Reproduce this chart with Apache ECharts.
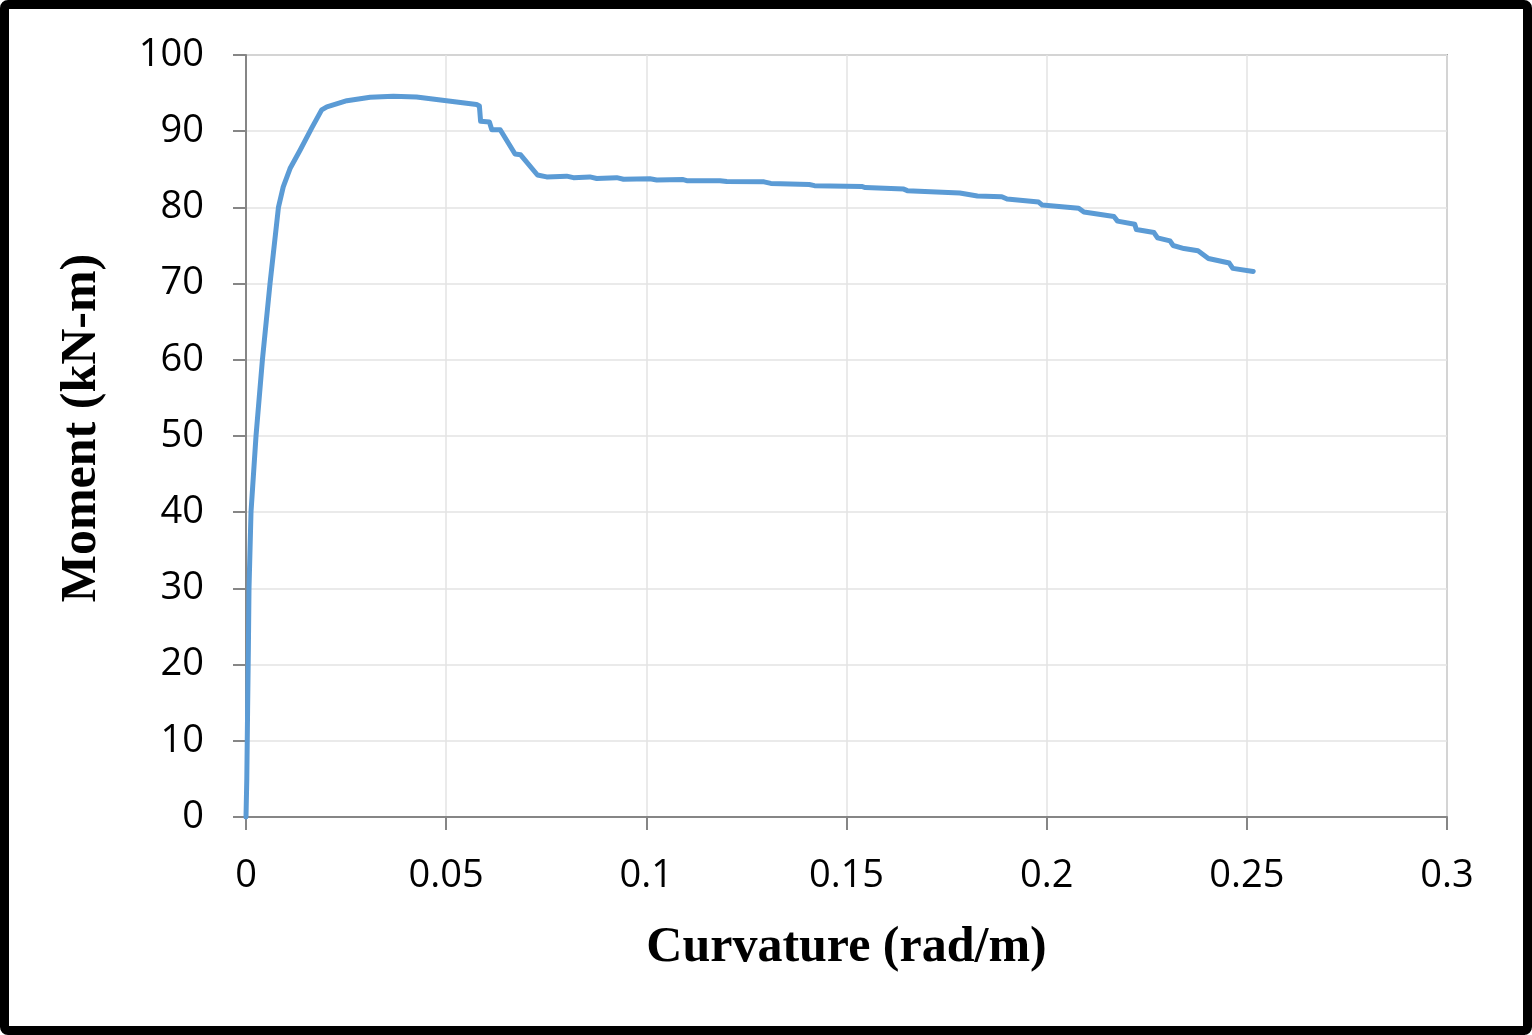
<!DOCTYPE html>
<html>
<head>
<meta charset="utf-8">
<script src="https://cdn.jsdelivr.net/npm/echarts@6/dist/echarts.min.js"></script>
<style>
  html, body { margin: 0; padding: 0; background: #fff; }
  #wrap { position: relative; width: 1532px; height: 1035px; }
  #main { position: absolute; left: 0; top: 0; width: 1532px; height: 1035px; }
  #frame {
    position: absolute; left: 0; top: 0; width: 1532px; height: 1035px;
    box-sizing: border-box; border: 9px solid #000; border-radius: 8px;
    pointer-events: none;
  }
</style>
</head>
<body>
<div id="wrap">
  <div id="main"></div>
  <div id="frame"></div>
</div>
<script>
// curvature (rad/m) and moment (kN-m)
var curvature = [
  0, 0.0002, 0.0004, 0.0006, 0.00075, 0.00125, 0.0025, 0.0041, 0.006, 0.0081,
  0.0093, 0.011, 0.0135, 0.0164, 0.0189, 0.0202, 0.0252, 0.031, 0.0368, 0.0426,
  0.0501, 0.0576, 0.0583, 0.0586, 0.0608, 0.0614, 0.0635, 0.0672, 0.0686, 0.0728,
  0.0751, 0.0801, 0.0818, 0.0859, 0.0876, 0.0926, 0.0943, 0.1009, 0.1026, 0.1092,
  0.1101, 0.1184, 0.1201, 0.1294, 0.1311, 0.1407, 0.142, 0.1538, 0.1547, 0.1643,
  0.1652, 0.1783, 0.1827, 0.1888, 0.1901, 0.198, 0.1989, 0.208, 0.2093, 0.2168,
  0.2177, 0.222, 0.2224, 0.2268, 0.2277, 0.2308, 0.2316, 0.2343, 0.2378, 0.2404,
  0.2456, 0.2465, 0.2516
];
var moment = [
  0, 5, 14, 22.3, 30, 40, 50, 60, 70, 80,
  82.7, 85.1, 87.5, 90.4, 92.8, 93.2, 94.0, 94.45, 94.6, 94.5,
  94.0, 93.5, 93.3, 91.3, 91.2, 90.2, 90.2, 87.0, 86.9, 84.25,
  84.0, 84.1, 83.9, 84.0, 83.8, 83.9, 83.7, 83.75, 83.6, 83.65,
  83.5, 83.5, 83.4, 83.35, 83.15, 83.0, 82.85, 82.75, 82.6, 82.4,
  82.2, 81.9, 81.5, 81.4, 81.1, 80.7, 80.3, 79.9, 79.4, 78.8,
  78.2, 77.8, 77.1, 76.7, 76.0, 75.6, 75.0, 74.6, 74.3, 73.3,
  72.7, 72.0, 71.6
];

var xTitle = 'Curvature (rad/m)';
var yTitle = 'Moment (kN-m)';

var points = curvature.map(function (c, i) { return [c, moment[i]]; });

var chart = echarts.init(document.getElementById('main'));
var labelStyle = { fontFamily: 'Open Sans', fontSize: 38, color: '#000' };
var titleStyle = { fontFamily: 'Liberation Serif', fontWeight: 'bold', fontSize: 50, color: '#000' };

chart.setOption({
  animation: false,
  grid: {
    left: 246, top: 55, right: 85, bottom: 218,
    show: true, borderColor: '#a6a6a6', borderWidth: 2
  },
  xAxis: {
    type: 'value', min: 0, max: 0.3, interval: 0.05,
    name: xTitle, nameLocation: 'middle', nameGap: 106,
    nameTextStyle: titleStyle,
    axisLine: { show: true, lineStyle: { color: '#868686', width: 2 } },
    axisTick: { show: true, length: 13, lineStyle: { color: '#868686', width: 2 } },
    axisLabel: Object.assign({ margin: 40 }, labelStyle),
    splitLine: { show: true, lineStyle: { color: '#e3e3e3', width: 1.5 } }
  },
  yAxis: {
    type: 'value', min: 0, max: 100, interval: 10,
    name: yTitle, nameLocation: 'middle', nameGap: 139, nameRotate: 90,
    nameTextStyle: Object.assign({ padding: [0, 0, 0, 16] }, titleStyle),
    axisLine: { show: true, lineStyle: { color: '#868686', width: 2 } },
    axisTick: { show: true, length: 13, lineStyle: { color: '#868686', width: 2 } },
    axisLabel: Object.assign({ margin: 42 }, labelStyle),
    splitLine: { show: true, lineStyle: { color: '#e3e3e3', width: 1.5 } }
  },
  series: [{
    type: 'line',
    data: points,
    showSymbol: false,
    smooth: false,
    lineStyle: { color: '#5b9bd5', width: 5, cap: 'round', join: 'round' }
  }]
});
</script>
</body>
</html>
